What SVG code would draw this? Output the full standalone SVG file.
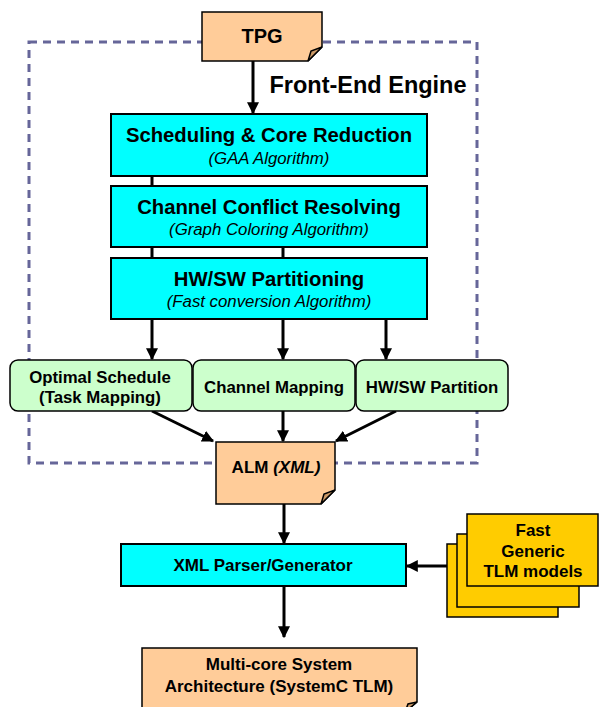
<svg xmlns="http://www.w3.org/2000/svg" width="599" height="707" viewBox="0 0 599 707">
<defs>
<style>
.t{font-family:"Liberation Sans",Arial,sans-serif;font-weight:bold;fill:#000;text-anchor:middle}
.i{font-family:"Liberation Sans",Arial,sans-serif;font-style:italic;fill:#000;text-anchor:middle}
.cyan{fill:#00FFFF;stroke:#000;stroke-width:2}
.green{fill:#CCFFCC;stroke:#000;stroke-width:1.5}
.peach{fill:#FFCC99;stroke:#000;stroke-width:1.5}
.flap{fill:#CC9966;stroke:#000;stroke-width:1.5}
.gold{fill:#FFCC00;stroke:#000;stroke-width:1.5}
.ln{stroke:#000;stroke-width:3;fill:none}
</style>
<marker id="ah" viewBox="0 0 10 10" refX="9" refY="5" markerWidth="4" markerHeight="4" orient="auto" markerUnits="strokeWidth">
<path d="M0,0 L10,5 L0,10 Z" fill="#000"/>
</marker>
</defs>
<rect id="frontend" x="29" y="42" width="448" height="421" fill="none" stroke="#666699" stroke-width="3" stroke-dasharray="8,6"/>
<g id="connectors">
<line class="ln" x1="253" y1="61" x2="253" y2="113" marker-end="url(#ah)"/>
<line class="ln" x1="152" y1="176" x2="152" y2="186"/>
<line class="ln" x1="152" y1="247" x2="152" y2="258"/>
<line class="ln" x1="283" y1="247" x2="283" y2="258"/>
<line class="ln" x1="152" y1="319" x2="152" y2="359" marker-end="url(#ah)"/>
<line class="ln" x1="283" y1="319" x2="283" y2="359" marker-end="url(#ah)"/>
<line class="ln" x1="386" y1="319" x2="386" y2="359" marker-end="url(#ah)"/>
<line class="ln" x1="152" y1="411" x2="213" y2="441" marker-end="url(#ah)"/>
<line class="ln" x1="283" y1="411" x2="283" y2="441" marker-end="url(#ah)"/>
<line class="ln" x1="396" y1="411" x2="336" y2="441" marker-end="url(#ah)"/>
<line class="ln" x1="284" y1="504" x2="284" y2="543" marker-end="url(#ah)"/>
<line class="ln" x1="447" y1="566" x2="407" y2="566" marker-end="url(#ah)"/>
<line class="ln" x1="284" y1="586" x2="284" y2="637" marker-end="url(#ah)"/>
</g>
<g id="tpg">
<path class="peach" d="M202,12 H322 V47 L308,61 H202 Z"/>
<path class="flap" d="M322,47 L308,61 L311,51 Z"/>
<text class="t" x="262" y="43" font-size="20">TPG</text>
</g>
<text id="frontend-label" class="t" x="368" y="93" font-size="23.5">Front-End Engine</text>
<g id="scheduling">
<rect class="cyan" x="111" y="114" width="316" height="62"/>
<text class="t" x="269" y="142" font-size="20.3">Scheduling &amp; Core Reduction</text>
<text class="i" x="269" y="164" font-size="16.8">(GAA Algorithm)</text>
</g>
<g id="channel">
<rect class="cyan" x="111" y="186" width="316" height="61"/>
<text class="t" x="269" y="214" font-size="20.3">Channel Conflict Resolving</text>
<text class="i" x="269" y="235" font-size="16.8">(Graph Coloring Algorithm)</text>
</g>
<g id="hwsw">
<rect class="cyan" x="111" y="258" width="316" height="61"/>
<text class="t" x="269" y="286" font-size="20.3">HW/SW Partitioning</text>
<text class="i" x="269" y="307" font-size="16.8">(Fast conversion Algorithm)</text>
</g>
<g id="optimal">
<rect class="green" x="10" y="360" width="182" height="51" rx="8"/>
<text class="t" x="100" y="383" font-size="16.8">Optimal Schedule</text>
<text class="t" x="100" y="403" font-size="16.8">(Task Mapping)</text>
</g>
<g id="chmap">
<rect class="green" x="193" y="360" width="162" height="51" rx="8"/>
<text class="t" x="274" y="393" font-size="16.8">Channel Mapping</text>
</g>
<g id="partition">
<rect class="green" x="356" y="360" width="152" height="51" rx="8"/>
<text class="t" x="432" y="393" font-size="16.8">HW/SW Partition</text>
</g>
<g id="alm">
<path class="peach" d="M216,442 H335 V490 L321,504 H216 Z"/>
<path class="flap" d="M335,490 L321,504 L324,494 Z"/>
<text class="t" x="276" y="473" font-size="17">ALM <tspan font-style="italic">(XML)</tspan></text>
</g>
<g id="xmlparser">
<rect class="cyan" x="121" y="544" width="285" height="42" stroke-width="1.5"/>
<text class="t" x="263" y="571" font-size="17">XML Parser/Generator</text>
</g>
<g id="tlm">
<rect class="gold" x="447" y="544" width="111" height="73"/>
<rect class="gold" x="457" y="534" width="122" height="73"/>
<rect class="gold" x="467" y="514" width="131" height="72"/>
<text class="t" x="533" y="536" font-size="17">Fast</text>
<text class="t" x="533" y="557" font-size="17">Generic</text>
<text class="t" x="533" y="577" font-size="17">TLM models</text>
</g>
<g id="multicore">
<path class="peach" d="M142,648 H417 V702 L405,712 H142 Z"/>
<path class="flap" d="M417,702 L405,712 L408,704 Z"/>
<text class="t" x="279" y="670" font-size="17">Multi-core System</text>
<text class="t" x="279" y="692" font-size="17">Architecture (SystemC TLM)</text>
</g>
</svg>
